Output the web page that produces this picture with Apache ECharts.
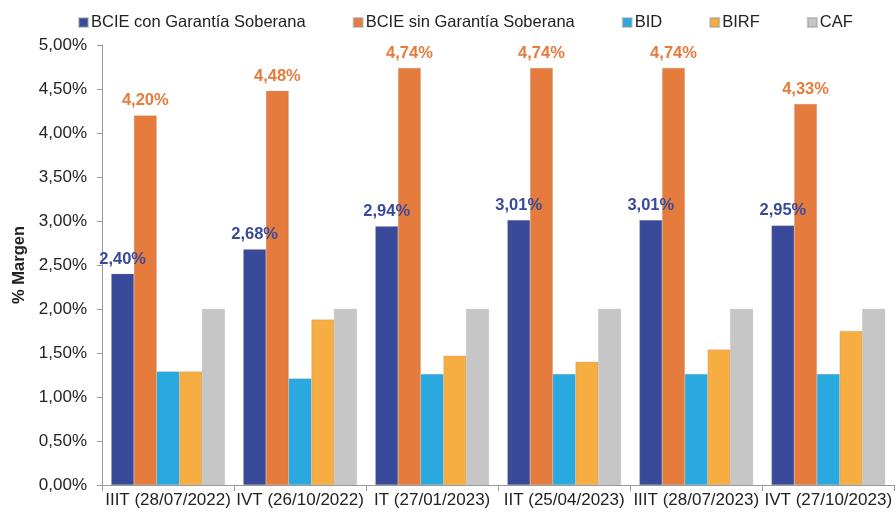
<!DOCTYPE html>
<html>
<head>
<meta charset="utf-8">
<script src="https://cdn.jsdelivr.net/npm/echarts@6/dist/echarts.min.js"></script>
<style>
  html, body { margin: 0; padding: 0; background: #fff; }
  #chart { width: 895px; height: 514px; }
</style>
</head>
<body>
<div id="chart"></div>
<script>
// trimestres
const categories = ['IIIT (28/07/2022)', 'IVT (26/10/2022)', 'IT (27/01/2023)', 'IIT (25/04/2023)', 'IIIT (28/07/2023)', 'IVT (27/10/2023)'];
const bcieCon = [2.40, 2.68, 2.94, 3.01, 3.01, 2.95];
const bcieSin = [4.20, 4.48, 4.74, 4.74, 4.74, 4.33];
const bid = [1.29, 1.21, 1.26, 1.26, 1.26, 1.26];
const birf = [1.29, 1.88, 1.47, 1.40, 1.54, 1.75];
const caf = [2.00, 2.00, 2.00, 2.00, 2.00, 2.00];
const yTicks = [0, 0.5, 1, 1.5, 2, 2.5, 3, 3.5, 4, 4.5, 5];

const fmt = v => v.toFixed(2).replace('.', ',') + '%';
const font = 'Liberation Sans, Arial, sans-serif';

function bar(name, data, color, showLabel) {
  return {
    name: name,
    type: 'bar',
    data: data,
    barGap: '0%',
    barCategoryGap: '14%',
    itemStyle: { color: color, borderColor: 'rgba(150,150,150,0.5)', borderWidth: 0.5 },
    label: {
      show: showLabel,
      position: 'top',
      distance: 6,
      color: color,
      fontSize: 16.5,
      fontWeight: 'bold',
      fontFamily: font,
      formatter: p => fmt(p.value)
    }
  };
}

let chart = echarts.init(document.getElementById('chart'));
chart.setOption({
  animation: false,
  textStyle: { fontFamily: font },
  legend: {
    top: 9,
    left: 73,
    icon: 'rect',
    itemWidth: 9,
    itemHeight: 9,
    itemGap: 47,
    textStyle: { fontSize: 16.5, color: '#222', fontFamily: font, padding: [0, 0, 0, -2] },
    data: ['BCIE con Garantía Soberana', 'BCIE sin Garantía Soberana', 'BID', 'BIRF', 'CAF']
  },
  grid: { left: 102, right: 0, top: 45, bottom: 29, containLabel: false },
  xAxis: {
    type: 'category',
    data: categories,
    axisLine: { lineStyle: { color: '#999' } },
    axisTick: { show: true, length: 6, lineStyle: { color: '#999' } },
    axisLabel: { color: '#222', fontSize: 17, margin: 7, interval: 0, fontFamily: font }
  },
  yAxis: {
    type: 'value',
    min: yTicks[0],
    max: yTicks[yTicks.length - 1],
    interval: 0.5,
    name: '% Margen',
    nameLocation: 'middle',
    nameGap: 66,
    nameTextStyle: { fontSize: 16.5, fontWeight: 'bold', color: '#222', fontFamily: font },
    axisLine: { show: true, lineStyle: { color: '#999' } },
    axisTick: { show: true, length: 5, lineStyle: { color: '#999' } },
    splitLine: { show: false },
    axisLabel: { color: '#222', fontSize: 17, margin: 15, fontFamily: font, formatter: v => fmt(v) }
  },
  series: [
    bar('BCIE con Garantía Soberana', bcieCon, '#3A4A9A', true),
    bar('BCIE sin Garantía Soberana', bcieSin, '#E57B3C', true),
    bar('BID', bid, '#29A9E0', false),
    bar('BIRF', birf, '#F6AD42', false),
    bar('CAF', caf, '#C6C6C6', false)
  ]
});
</script>
</body>
</html>
